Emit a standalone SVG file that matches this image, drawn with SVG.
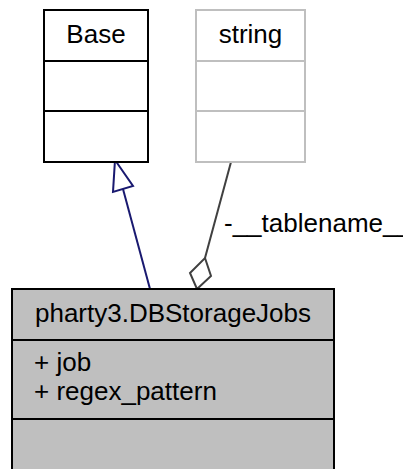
<svg xmlns="http://www.w3.org/2000/svg" width="403" height="469" viewBox="0 0 403 469">
<style>
text{font-family:"Liberation Sans",Arial,sans-serif;font-size:26px;fill:#000}
.c{text-anchor:middle}
.box{stroke-width:2}
</style>
<rect width="403" height="469" fill="#fff"/>
<g id="edges">
<g id="edge-inherit">
<line x1="150" y1="289" x2="123" y2="189" stroke="#191970" stroke-width="2"/>
<polygon points="115,160 133,186 113,192" fill="#fff" stroke="#191970" stroke-width="2"/>
</g>
<g id="edge-tablename">
<line x1="231" y1="162" x2="205" y2="258" stroke="#404040" stroke-width="2"/>
<polygon points="205,258 211,276 197,289 190,273" fill="#fff" stroke="#404040" stroke-width="2"/>
<text x="224" y="232">-__tablename__</text>
</g>
</g>
<g id="node-Base">
<rect x="44" y="10" width="104" height="152" fill="#fff" stroke="#000" class="box"/>
<line x1="44" y1="61" x2="148" y2="61" stroke="#000" stroke-width="2"/>
<line x1="44" y1="111" x2="148" y2="111" stroke="#000" stroke-width="2"/>
<text class="c" x="96" y="43">Base</text>
</g>
<g id="node-string">
<rect x="196" y="10" width="109" height="152" fill="#fff" stroke="#bfbfbf" class="box"/>
<line x1="196" y1="61" x2="305" y2="61" stroke="#bfbfbf" stroke-width="2"/>
<line x1="196" y1="111" x2="305" y2="111" stroke="#bfbfbf" stroke-width="2"/>
<text class="c" x="250.5" y="43">string</text>
</g>
<g id="node-DBStorageJobs">
<rect x="12" y="289" width="322" height="200" fill="#bfbfbf" stroke="#000" class="box"/>
<line x1="12" y1="340" x2="334" y2="340" stroke="#000" stroke-width="2"/>
<line x1="12" y1="419" x2="334" y2="419" stroke="#000" stroke-width="2"/>
<text class="c" x="173" y="322">pharty3.DBStorageJobs</text>
<text x="34" y="371">+ job</text>
<text x="34" y="400">+ regex_pattern</text>
</g>
</svg>
